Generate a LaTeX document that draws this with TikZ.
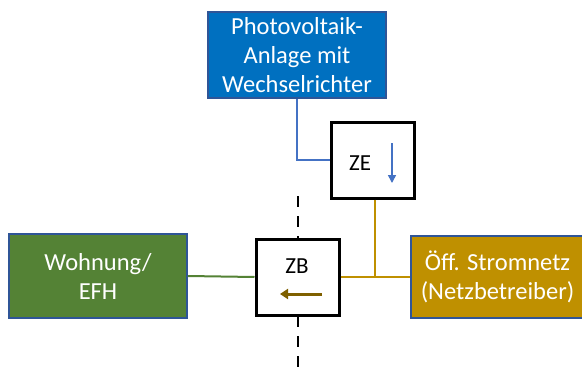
\documentclass[tikz,border=0pt]{standalone}
\usepackage{fontspec}
\setmainfont{Carlito}
\usetikzlibrary{arrows.meta}
\definecolor{pvblue}{HTML}{0070C0}
\definecolor{frameblue}{HTML}{2F5597}
\definecolor{lineblue}{HTML}{4472C4}
\definecolor{homegreen}{HTML}{548235}
\definecolor{gridgold}{HTML}{BF9000}
\definecolor{flowbrown}{HTML}{7F6000}
\tikzset{
	areabox/.style={draw=frameblue, line width=1.5pt, text=white, align=center,
		font=\fontsize{24.5}{29}\selectfont, inner sep=0pt},
	meterbox/.style={draw=black, line width=3pt, fill=white, minimum width=83pt,
		minimum height=76pt, inner sep=0pt},
	meterlabel/.style={font=\fontsize{23}{27}\selectfont},
	wire/.style={line width=2pt}
}
\begin{document}
\begin{tikzpicture}[x=1pt,y=-1pt]
	\useasboundingbox (0,0) rectangle (582,367);
	
	% grenze
	\coordinate (cuttop) at (298,196);
	\coordinate (cutbot) at (298,367);
	\draw[line width=2pt][black][dash pattern=on 11pt off 9pt](cuttop)--(cutbot);
	
	\node[areabox, fill=pvblue, minimum width=178pt, minimum height=86pt] (pv) at (297,55)
		{Photovoltaik-\\Anlage mit\\Wechselrichter};
	\node[areabox, fill=homegreen, minimum width=178pt, minimum height=84pt] (home) at (98,276)
		{Wohnung/\\EFH};
	\node[areabox, fill=gridgold, minimum width=173pt, minimum height=82pt] (grid) at (497.5,277)
		{Öff. Stromnetz\\(Netzbetreiber)};
	
	\node[meterbox] (ze) at (372.5,160) {};
	\node[meterlabel] (zelabel) at (360,163) {ZE};
	\node[meterbox] (zb) at (297.5,277) {};
	\node[meterlabel] (zblabel) at (297,266) {ZB};
	
	% leitungen
	\draw[wire][lineblue](pv.south)|-(ze.west);
	\draw[wire][homegreen](home.east)--(zb.west);
	\coordinate (tee) at (375,277);
	\draw[wire][gridgold](zb.east)--(grid.west);
	\draw[wire][gridgold](ze.south -| tee)--(tee);
	
	% energiefluss
	\draw[line width=1.5pt][lineblue][-{Triangle[length=8pt,width=8pt]}](392,143)--(392,183);
	\draw[line width=3pt][flowbrown][-{Triangle[length=8pt,width=10pt]}](322,294)--(280,294);
	
\end{tikzpicture}
\end{document}
